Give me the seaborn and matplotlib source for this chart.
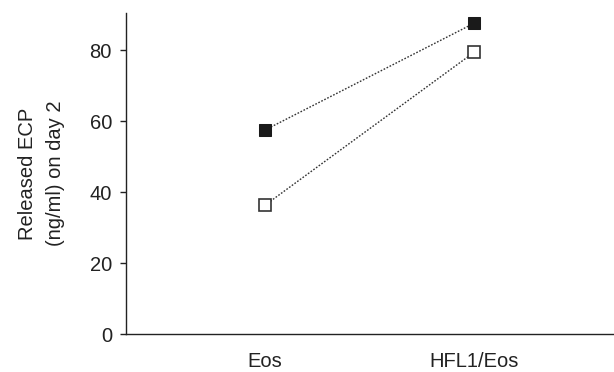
import matplotlib
matplotlib.use("Agg")
import matplotlib.pyplot as plt
import seaborn as sns
import pandas as pd

groups = ["Eos", "HFL1/Eos"]
filled_vals = [57.5, 87.6]
open_vals = [36.3, 79.4]

sns.set_style("ticks")
plt.rcParams['font.family'] = ['Liberation Sans', 'DejaVu Sans']

df_filled = pd.DataFrame({"group": groups, "ecp": filled_vals})
df_open = pd.DataFrame({"group": groups, "ecp": open_vals})

fig = plt.figure(figsize=(6.14, 3.72), dpi=100)
ax = fig.add_axes([0.205, 0.102, 0.795, 0.863])

sns.lineplot(data=df_filled, x="group", y="ecp", ax=ax, color="#333333",
             linestyle=(0, (1.2, 1.2)), linewidth=1.0, marker="s", markersize=8.5,
             markerfacecolor="#1a1a1a", markeredgecolor="#1a1a1a")
sns.lineplot(data=df_open, x="group", y="ecp", ax=ax, color="#333333",
             linestyle=(0, (1.2, 1.2)), linewidth=1.0, marker="s", markersize=8.5,
             markerfacecolor="white", markeredgecolor="#333333", markeredgewidth=1.2)

ax.set_xlim(-0.665, 1.67)
ax.set_ylim(0, 90.5)
ax.set_yticks([0, 20, 40, 60, 80])
ax.set_xticks([0, 1])
ax.set_xticklabels(groups)
ax.tick_params(axis="x", length=0, pad=13, labelsize=14.5, colors="#222222")
ax.tick_params(axis="y", length=4, width=1, pad=6, labelsize=14.5, colors="#222222")
ax.set_xlabel("")
ax.set_ylabel("Released ECP\n(ng/ml) on day 2", fontsize=14.5, color="#222222",
              labelpad=18, linespacing=1.55)
sns.despine(ax=ax)
for s in ["left", "bottom"]:
    ax.spines[s].set_linewidth(1.0)
    ax.spines[s].set_color("#222222")

fig.savefig("out.png", dpi=100)
